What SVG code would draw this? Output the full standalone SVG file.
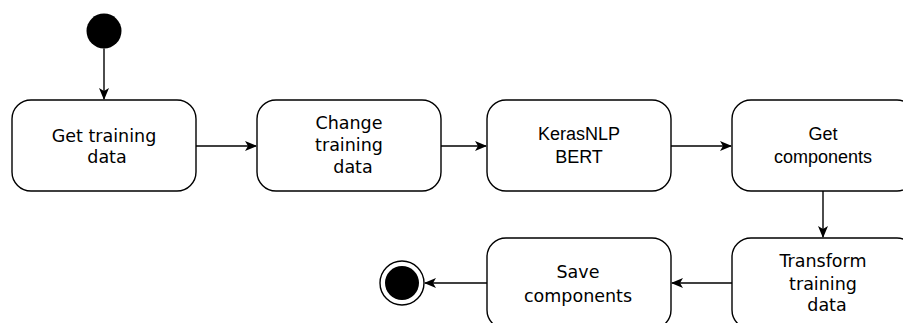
<svg xmlns="http://www.w3.org/2000/svg" width="903" height="323" viewBox="0 0 903 323">
<style>
.box{fill:#fff;stroke:#000;stroke-width:1.4}
.dv{font-family:"DejaVu Sans",Verdana,sans-serif;font-size:17.5px;fill:#000;text-anchor:middle}
.ar{font-family:"Liberation Sans",Arial,sans-serif;font-size:18px;fill:#000;text-anchor:middle}
.edge{fill:none;stroke:#000;stroke-width:1.4}
</style>
<defs>
<marker id="arr" viewBox="0 0 12 10" refX="11" refY="5" markerWidth="12" markerHeight="10" markerUnits="userSpaceOnUse" orient="auto">
<path d="M0,0 L12,5 L0,10 L3,5 Z" fill="#000"/>
</marker>
</defs>
<rect width="903" height="323" fill="#fff"/>
<g id="start"><circle cx="104" cy="31" r="17.5" fill="#000"/></g>
<g id="n1"><rect class="box" x="12" y="100" width="184" height="91" rx="19"/>
<text class="dv" x="104" y="142">Get training</text><text class="dv" x="107" y="163">data</text></g>
<g id="n2"><rect class="box" x="257" y="100" width="184" height="91" rx="19"/>
<text class="dv" x="349" y="129">Change</text><text class="dv" x="349" y="151">training</text><text class="dv" x="353" y="173">data</text></g>
<g id="n3"><rect class="box" x="487" y="100" width="184" height="91" rx="19"/>
<text class="ar" x="579" y="140">KerasNLP</text><text class="ar" x="579" y="163">BERT</text></g>
<g id="n4"><rect class="box" x="732" y="100" width="184" height="91" rx="19"/>
<text class="ar" x="823" y="140">Get</text><text class="ar" x="823" y="163">components</text></g>
<g id="n5"><rect class="box" x="732" y="238" width="184" height="91" rx="19"/>
<text class="dv" x="823" y="267">Transform</text><text class="dv" x="823" y="290">training</text><text class="dv" x="827" y="311">data</text></g>
<g id="n6"><rect class="box" x="487" y="238" width="184" height="91" rx="19"/>
<text class="dv" x="578" y="278">Save</text><text class="dv" x="578" y="302">components</text></g>
<g id="end"><circle cx="402" cy="283" r="22" fill="#fff" stroke="#000" stroke-width="1.4"/><circle cx="402" cy="283" r="17" fill="#000"/></g>
<g id="connectors">
<path class="edge" d="M104,48.5 V99" marker-end="url(#arr)"/>
<path class="edge" d="M196,146 H256" marker-end="url(#arr)"/>
<path class="edge" d="M441,146 H486" marker-end="url(#arr)"/>
<path class="edge" d="M671,146 H731" marker-end="url(#arr)"/>
<path class="edge" d="M823,191 V237" marker-end="url(#arr)"/>
<path class="edge" d="M732,283 H672" marker-end="url(#arr)"/>
<path class="edge" d="M487,283 H425" marker-end="url(#arr)"/>
</g>
</svg>
